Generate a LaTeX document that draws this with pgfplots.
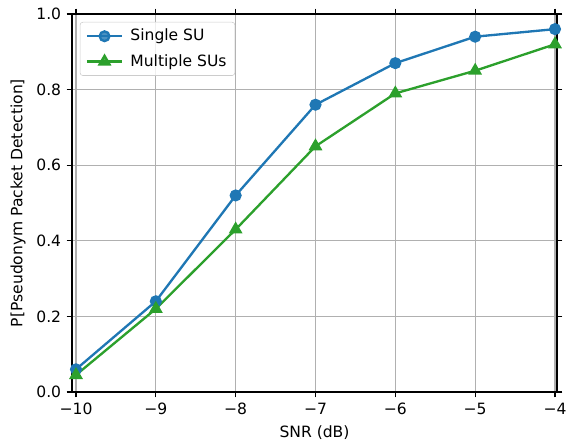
\documentclass[border=0pt]{standalone}
\usepackage{fontspec}
\setmainfont{DejaVu Sans}
\usepackage{pgfplots}
\pgfplotsset{compat=1.18}
\definecolor{tabblue}{HTML}{1F77B4}
\definecolor{tabgreen}{HTML}{2CA02C}
\definecolor{gridgray}{HTML}{B0B0B0}
\definecolor{legedge}{HTML}{CCCCCC}

\begin{document}
\fontsize{11.2}{13.4}\selectfont
\begin{tikzpicture}
\begin{axis}[
  scale only axis,
  width=349.2pt,
  height=272.16pt,
  xmin=-10.05, xmax=-3.975,
  ymin=0, ymax=1,
  xtick={-10,-9,-8,-7,-6,-5,-4},
  xticklabels={−10,−9,−8,−7,−6,−5,−4},
  ytick={0,0.2,0.4,0.6,0.8,1.0},
  yticklabel style={/pgf/number format/.cd,fixed,fixed zerofill,precision=1},
  /pgf/number format/assume math mode=true,
  tick align=outside,
  major tick length=3.9pt,
  tick style={black, line width=0.9pt},
  axis line style={line width=0.9pt},
  grid=major,
  grid style={gridgray, line width=0.9pt},
  xlabel={SNR (dB)},
  ylabel={P[Pseudonym Packet Detection]},
  legend cell align=left,
  legend style={draw=legedge, rounded corners=2pt, fill=white, fill opacity=0.8, text opacity=1,
    at={(axis description cs:0.016,0.979)}, anchor=north west, inner xsep=4pt, inner ysep=3pt,
    row sep=4pt, /tikz/every odd column/.append style={column sep=3pt}},
  legend image code/.code={
    \draw[mark repeat=2,mark phase=2,#1] plot coordinates {(0cm,0cm)(0.45cm,0cm)(0.9cm,0cm)};
  },
  clip=false,
]
\addplot[tabblue, line width=1.68pt, mark=*, mark size=3.5pt, mark options={solid}] coordinates {
  (-10,0.06) (-9,0.24) (-8,0.52) (-7,0.76) (-6,0.87) (-5,0.94) (-4,0.96)
};
\addlegendentry{Single SU}
\addplot[tabgreen, line width=1.68pt, mark=triangle*, mark size=4.1pt, mark options={solid}] coordinates {
  (-10,0.045) (-9,0.22) (-8,0.43) (-7,0.65) (-6,0.79) (-5,0.85) (-4,0.92)
};
\addlegendentry{Multiple SUs}
\end{axis}
\pgfresetboundingbox
\useasboundingbox (-51.84pt,-34.56pt) rectangle (355.68pt,282.24pt);
\end{tikzpicture}
\end{document}
